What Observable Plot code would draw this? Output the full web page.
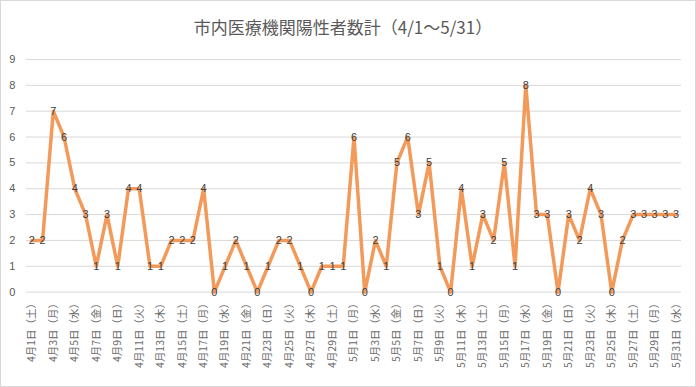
<!DOCTYPE html>
<html>
<head>
<meta charset="utf-8">
<script src="https://cdn.jsdelivr.net/npm/d3@7"></script>
<script src="https://cdn.jsdelivr.net/npm/@observablehq/plot@0.6"></script>
<style>
  html, body { margin: 0; padding: 0; background: #fff; }
  #wrap { position: relative; width: 694px; height: 385px; border: 1px solid #d9d9d9; overflow: hidden; background: #fff; }
  #title { height: 43px; line-height: 52px; text-align: center; font-family: "Noto Sans CJK JP", sans-serif; font-size: 17px; color: #595959; padding-right: 10px; }
  #chart { position: absolute; left: -1px; top: 43px; }
</style>
</head>
<body>
<div id="wrap">
  <div id="title">市内医療機関陽性者数計（4/1〜5/31）</div>
  <div id="chart"></div>
</div>
<script>
const categories = [
  "4月1日（土）","4月2日（日）","4月3日（月）","4月4日（火）","4月5日（水）","4月6日（木）","4月7日（金）",
  "4月8日（土）","4月9日（日）","4月10日（月）","4月11日（火）","4月12日（水）","4月13日（木）","4月14日（金）",
  "4月15日（土）","4月16日（日）","4月17日（月）","4月18日（火）","4月19日（水）","4月20日（木）","4月21日（金）",
  "4月22日（土）","4月23日（日）","4月24日（月）","4月25日（火）","4月26日（水）","4月27日（木）","4月28日（金）",
  "4月29日（土）","4月30日（日）","5月1日（月）","5月2日（火）","5月3日（水）","5月4日（木）","5月5日（金）",
  "5月6日（土）","5月7日（日）","5月8日（月）","5月9日（火）","5月10日（水）","5月11日（木）","5月12日（金）",
  "5月13日（土）","5月14日（日）","5月15日（月）","5月16日（火）","5月17日（水）","5月18日（木）","5月19日（金）",
  "5月20日（土）","5月21日（日）","5月22日（月）","5月23日（火）","5月24日（水）","5月25日（木）","5月26日（金）",
  "5月27日（土）","5月28日（日）","5月29日（月）","5月30日（火）","5月31日（水）"
];
const values = [
  2,2,7,6,4,3,1,3,1,4,4,1,1,2,2,2,4,0,1,2,1,0,1,2,2,1,0,1,1,1,
  6,0,2,1,5,6,3,5,1,0,4,1,3,2,5,1,8,3,3,0,3,2,4,3,0,2,3,3,3,3,3
];
const yTicks = [0,1,2,3,4,5,6,7,8,9];
const xTickLabels = categories.filter((d, i) => i % 2 === 0);

const data = categories.map((c, i) => ({date: c, value: values[i]}));

const chart = Plot.plot({
  width: 696,
  height: 344,
  marginLeft: 26,
  marginRight: 14,
  marginTop: 15,
  marginBottom: 96,
  style: {fontFamily: "'Noto Sans CJK JP', sans-serif", color: "#595959", background: "transparent"},
  x: {type: "point", domain: categories, padding: 0.5, label: null},
  y: {domain: [0, 9], label: null},
  marks: [
    Plot.ruleY(yTicks, {stroke: "#d9d9d9", strokeWidth: 1}),
    Plot.axisY({ticks: yTicks, tickSize: 0, tickPadding: 11, fontSize: 11, fill: "#595959", fontFamily: "'Liberation Sans', sans-serif", label: null}),
    Plot.axisX({ticks: xTickLabels, tickSize: 0, tickPadding: 6, tickRotate: -90, fontSize: 10.5, fill: "#6a6a6a", label: null}),
    Plot.line(data, {x: "date", y: "value", stroke: "#F39A5A", strokeWidth: 3.5, strokeLinejoin: "round"}),
    Plot.text(data, {x: "date", y: "value", text: d => String(d.value), fill: "#404040", fontSize: 11, fontFamily: "'Liberation Sans', sans-serif"})
  ]
});
document.getElementById("chart").appendChild(chart);
</script>
</body>
</html>
